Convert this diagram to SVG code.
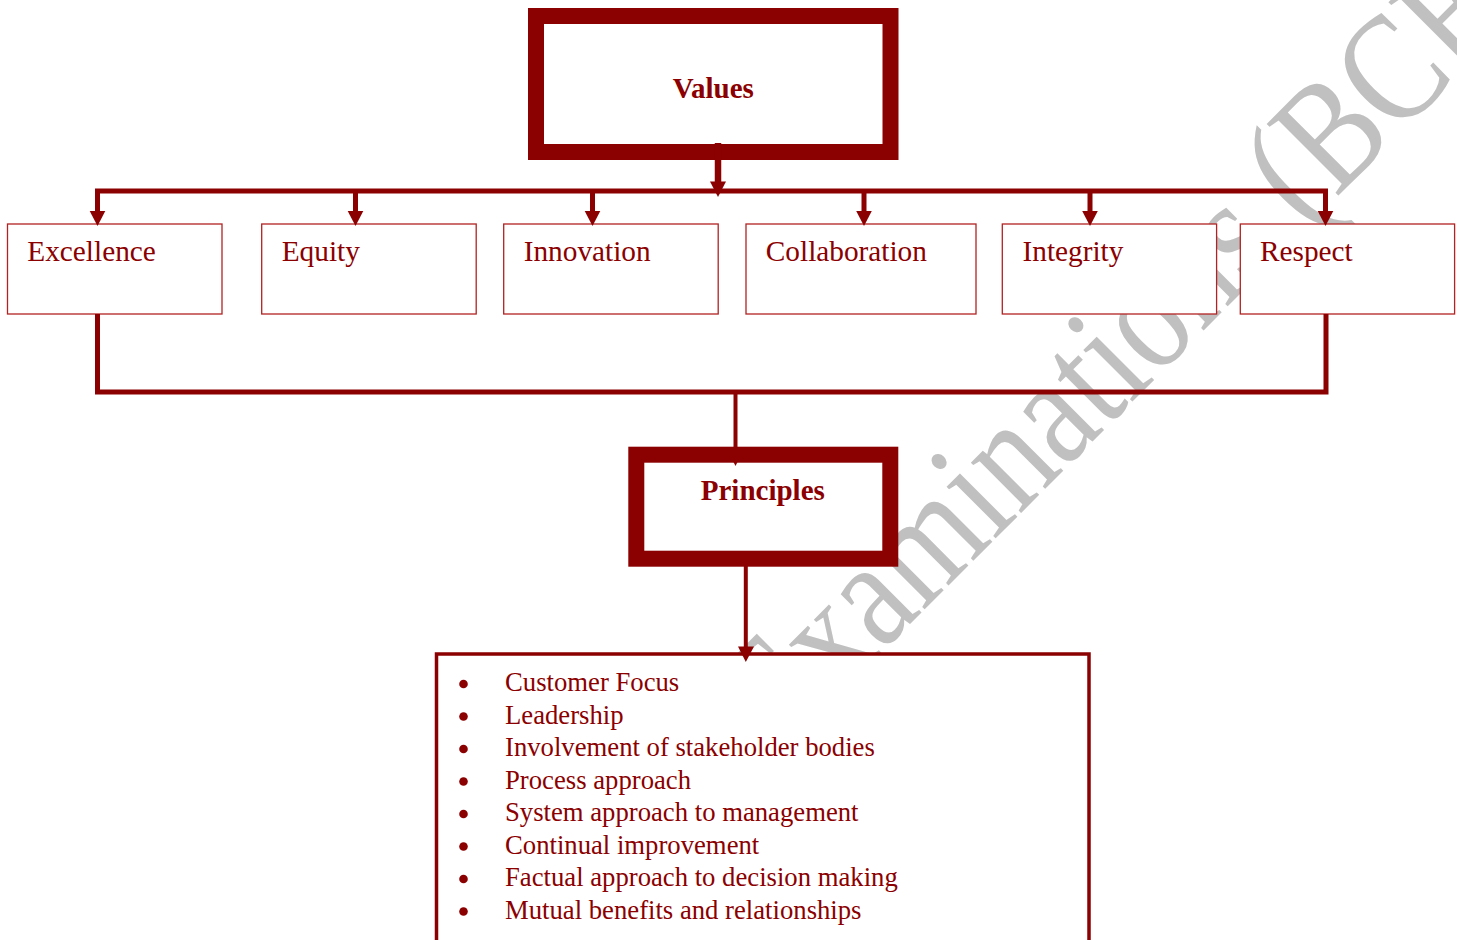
<svg xmlns="http://www.w3.org/2000/svg" width="1457" height="940" viewBox="0 0 1457 940">
<style>
.wm{font-family:"Liberation Serif","Times New Roman",serif;font-size:129px;fill:#c0c0c0}
.title{font-family:"Liberation Serif","Times New Roman",serif;font-size:29px;font-weight:bold;fill:#8b0000;text-anchor:middle}
.thick{fill:#ffffff;stroke:#8b0000;stroke-width:16}
.vbox{fill:#ffffff;stroke:#b22222;stroke-width:1.3}
.lbl{font-family:"Liberation Serif","Times New Roman",serif;font-size:29.3px;fill:#8b0000}
.item{font-family:"Liberation Serif","Times New Roman",serif;font-size:26.7px;fill:#8b0000}
.bul{fill:#8b0000}
.conn{fill:none;stroke:#8b0000;stroke-linejoin:miter;stroke-linecap:butt}
.head{fill:#8b0000}
</style>
<rect width="1457" height="940" fill="#ffffff"/>
<text class="wm" x="0" y="0" transform="translate(781 753) rotate(-45) scale(1 1.2)">Examinations (BCE)</text>

<g id="values">
<rect class="thick" x="536" y="16" width="354.5" height="136"/>
<text class="title" x="713.3" y="98.3">Values</text>
</g>

<g id="excellence">
<rect class="vbox" x="7.5" y="224" width="214.5" height="90"/>
<text class="lbl" x="27.3" y="261">Excellence</text>
</g>
<g id="equity">
<rect class="vbox" x="261.7" y="224" width="214.5" height="90"/>
<text class="lbl" x="281.7" y="261">Equity</text>
</g>
<g id="innovation">
<rect class="vbox" x="503.7" y="224" width="214.5" height="90"/>
<text class="lbl" x="523.7" y="261">Innovation</text>
</g>
<g id="collaboration">
<rect class="vbox" x="746" y="224" width="230" height="90"/>
<text class="lbl" x="765.8" y="261">Collaboration</text>
</g>
<g id="integrity">
<rect class="vbox" x="1002.3" y="224" width="214.3" height="90"/>
<text class="lbl" x="1022.5" y="261">Integrity</text>
</g>
<g id="respect">
<rect class="vbox" x="1240.3" y="224" width="214.3" height="90"/>
<text class="lbl" x="1260" y="261">Respect</text>
</g>

<g id="principles">
<rect class="thick" x="636.3" y="454.7" width="254" height="104"/>
<text class="title" x="762.8" y="500">Principles</text>
</g>

<g id="principles-list">
<rect x="436.5" y="654" width="652.5" height="300" fill="#ffffff" stroke="#8b0000" stroke-width="3.5"/>
<circle class="bul" cx="463.5" cy="684" r="4.3"/>
<circle class="bul" cx="463.5" cy="716.5" r="4.3"/>
<circle class="bul" cx="463.5" cy="749" r="4.3"/>
<circle class="bul" cx="463.5" cy="781.5" r="4.3"/>
<circle class="bul" cx="463.5" cy="814" r="4.3"/>
<circle class="bul" cx="463.5" cy="846.5" r="4.3"/>
<circle class="bul" cx="463.5" cy="879" r="4.3"/>
<circle class="bul" cx="463.5" cy="911.5" r="4.3"/>
<text class="item" x="505" y="691">Customer Focus</text>
<text class="item" x="505" y="723.5">Leadership</text>
<text class="item" x="505" y="756">Involvement of stakeholder bodies</text>
<text class="item" x="505" y="788.5">Process approach</text>
<text class="item" x="505" y="821">System approach to management</text>
<text class="item" x="505" y="853.5">Continual improvement</text>
<text class="item" x="505" y="886">Factual approach to decision making</text>
<text class="item" x="505" y="918.5">Mutual benefits and relationships</text>
</g>

<g id="connectors">
<path class="conn" stroke-width="6.5" d="M718,143 V183"/>
<polygon class="head" points="710,181.5 726,181.5 718,197"/>
<path class="conn" stroke-width="5" d="M97.5,212 V191 H1325.5 V212"/>
<path class="conn" stroke-width="5" d="M355.5,191 V212 M592.5,191 V212 M864,191 V212 M1090,191 V212"/>
<polygon class="head" points="89.7,211 105.3,211 97.5,226"/>
<polygon class="head" points="347.7,211 363.3,211 355.5,226"/>
<polygon class="head" points="584.7,211 600.3,211 592.5,226"/>
<polygon class="head" points="856.2,211 871.8,211 864,226"/>
<polygon class="head" points="1082.2,211 1097.8,211 1090,226"/>
<polygon class="head" points="1317.7,211 1333.3,211 1325.5,226"/>
<path class="conn" stroke-width="5" d="M97.5,314 V392 H1326 V314"/>
<path class="conn" stroke-width="4" d="M735.5,392 V462"/>
<polygon class="head" points="732.5,460 738.5,460 735.5,466"/>
<path class="conn" stroke-width="4" d="M745.8,566 V648"/>
<polygon class="head" points="738,646.5 754,646.5 745.8,662"/>
</g>
</svg>
